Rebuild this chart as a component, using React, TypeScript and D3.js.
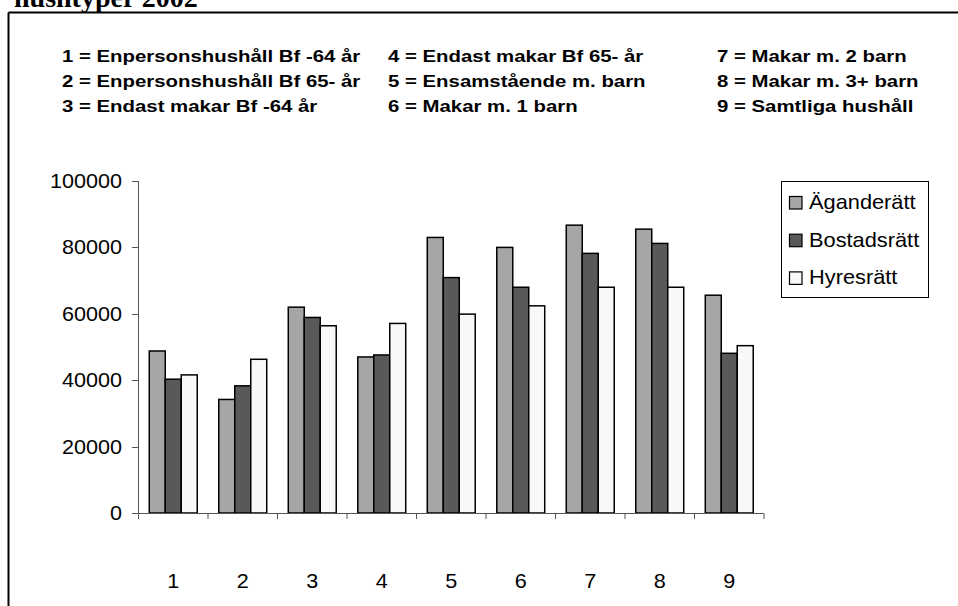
import React from "react";
import * as d3 from "d3";

const categories = ["1", "2", "3", "4", "5", "6", "7", "8", "9"];
const seriesNames = ["Äganderätt", "Bostadsrätt", "Hyresrätt"];
const agande = [48800, 34200, 62000, 47000, 83000, 80000, 86700, 85500, 65600];
const bostad = [40300, 38300, 58900, 47600, 70900, 68000, 78200, 81200, 48100];
const hyres = [41600, 46300, 56400, 57100, 59900, 62400, 68000, 68000, 50400];
const yTicks = [0, 20000, 40000, 60000, 80000, 100000];
const headerLines = [
  ["1 = Enpersonshushåll Bf -64 år", "4 = Endast makar Bf 65- år", "7 = Makar m. 2 barn"],
  ["2 = Enpersonshushåll Bf 65- år", "5 = Ensamstående m. barn", "8 = Makar m. 3+ barn"],
  ["3 = Endast makar Bf -64 år", "6 = Makar m. 1 barn", "9 = Samtliga hushåll"],
];
const titleText = "hushtyper 2002";

const colors = ["#A6A6A6", "#595959", "#F8F8F8"];
const W = 958;
const H = 606;

// text slightly stretched horizontally, like the original export
const Stretch = ({ x, y, s, children, ...rest }: any) => (
  <text transform={`translate(${x},${y}) scale(${s},1)`} {...rest}>
    {children}
  </text>
);

const App = () => {
  const series = [agande, bostad, hyres];
  const x = d3.scaleBand().domain(categories).range([138.5, 764]).paddingInner(0.31).paddingOuter(0.155);
  const xStep = d3.scaleBand().domain(categories).range([138.5, 764]);
  const xInner = d3.scaleBand().domain(seriesNames).range([0, x.bandwidth()]);
  const y = d3.scaleLinear().domain([0, 100000]).range([513, 181]);
  const fmt = d3.format("d");
  const font = "Arial, 'Liberation Sans', sans-serif";

  return (
    <div style={{ position: "fixed", left: 0, top: 0 }}>
      <svg width={W} height={H} style={{ display: "block", background: "#fff" }}>
        <text x={14} y={7} fontFamily="'Times New Roman', 'Liberation Serif', serif" fontWeight="bold" fontSize={28}>
          {titleText}
        </text>
        {/* frame */}
        <line x1={8.5} x2={W} y1={12.5} y2={12.5} stroke="#000" strokeWidth={2} />
        <line x1={8.5} x2={8.5} y1={12.5} y2={H} stroke="#000" strokeWidth={2} />

        {/* header key */}
        {headerLines.map((row, ri) =>
          row.map((t, ci) => (
            <Stretch key={ri + "-" + ci} x={[62, 388, 717][ci]} y={62 + ri * 25} s={1.235}
              fontFamily={font} fontWeight="bold" fontSize={16.5}>
              {t}
            </Stretch>
          ))
        )}

        {/* y axis */}
        <line x1={138.5} x2={138.5} y1={y(100000)} y2={y(0)} stroke="#555" />
        {yTicks.map((v) => (
          <g key={v}>
            <line x1={132} x2={138.5} y1={Math.round(y(v)) + 0.5} y2={Math.round(y(v)) + 0.5} stroke="#555" />
            <Stretch x={122} y={y(v) + 7} s={1.08} textAnchor="end" fontFamily={font} fontSize={20}>
              {fmt(v)}
            </Stretch>
          </g>
        ))}

        {/* bars */}
        {categories.map((c, i) => (
          <g key={c} transform={`translate(${x(c)},0)`}>
            {series.map((s, si) => (
              <rect key={si} x={xInner(seriesNames[si])} y={y(s[i])} width={xInner.bandwidth()}
                height={y(0) - y(s[i])} fill={colors[si]} stroke="#000" strokeWidth={1.5} />
            ))}
          </g>
        ))}

        {/* x axis */}
        <line x1={138.5} x2={764} y1={513.5} y2={513.5} stroke="#555" />
        {categories.concat(["end"]).map((c, i) => {
          const px = i < categories.length ? (xStep(c) as number) : 764;
          return <line key={"t" + i} x1={px} x2={px} y1={513.5} y2={519} stroke="#555" />;
        })}
        {categories.map((c) => (
          <Stretch key={"l" + c} x={(xStep(c) as number) + xStep.bandwidth() / 2} y={588} s={1.08}
            textAnchor="middle" fontFamily={font} fontSize={20}>
            {c}
          </Stretch>
        ))}

        {/* legend */}
        <rect x={781.5} y={181.5} width={147} height={116} fill="#fff" stroke="#000" />
        {seriesNames.map((n, i) => (
          <g key={n} transform={`translate(789,${196 + i * 37.7})`}>
            <rect x={0.5} y={0.5} width={12.5} height={12.5} fill={colors[i]} stroke="#000" strokeWidth={1.2} />
            <Stretch x={20} y={13} s={1.09} fontFamily={font} fontSize={20}>
              {n}
            </Stretch>
          </g>
        ))}
      </svg>
    </div>
  );
};

export default App;
